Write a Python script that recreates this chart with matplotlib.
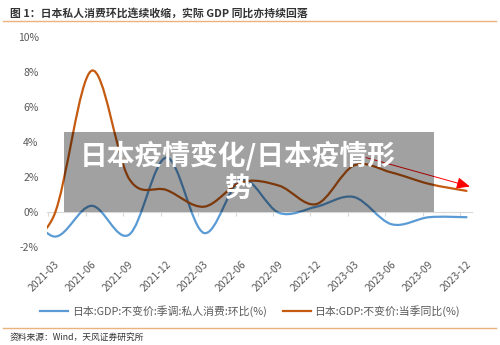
import numpy as np
import matplotlib
matplotlib.use("Agg")
import matplotlib.pyplot as plt
from matplotlib.path import Path
from matplotlib.patches import PathPatch, Rectangle
from matplotlib.lines import Line2D
from matplotlib.transforms import ScaledTranslation

plt.rcParams['font.family'] = ['Noto Sans CJK SC', 'DejaVu Sans']

# ---- data (quarterly, %) ----
# first entry (2020-12) sits left of the axis and is clipped away
quarters = ['2020-12', '2021-03', '2021-06', '2021-09', '2021-12', '2022-03', '2022-06',
            '2022-09', '2022-12', '2023-03', '2023-06', '2023-09', '2023-12']
consumption_qoq = [1.0, -1.4, 0.35, -1.3, 3.1, -1.2, 1.85, -0.05, 0.3, 0.85, -0.7, -0.3, -0.3]
gdp_yoy = [-1.8, -0.2, 8.05, 1.9, 1.25, 0.3, 1.7, 1.5, 0.45, 2.65, 2.25, 1.6, 1.2]
tick_labels = quarters[1:]

series_names = ['日本:GDP:不变价:季调:私人消费:环比(%)', '日本:GDP:不变价:当季同比(%)']
series_colors = ['#5B9BD5', '#C55A11']

title = '图 1：日本私人消费环比连续收缩，实际 GDP 同比亦持续回落'
source = '资料来源：Wind，天风证券研究所'
overlay_text = '日本疫情变化/日本疫情形\n势'

# trend arrow, in data units (start, end)
arrow_start = (8.32, 3.1)
arrow_end = (11.09, 1.45)


def smooth_path(x, y):
    # excel-like smoothed line: bezier through every point
    pts = np.column_stack([x, y]).astype(float)
    verts = [pts[0]]
    codes = [Path.MOVETO]
    n = len(pts)
    for i in range(n - 1):
        p0 = pts[i - 1] if i > 0 else pts[i]
        p1 = pts[i]
        p2 = pts[i + 1]
        p3 = pts[i + 2] if i + 2 < n else pts[i + 1]
        verts += [p1 + (p2 - p0) / 6, p2 - (p3 - p1) / 6, p2]
        codes += [Path.CURVE4] * 3
    return Path(verts, codes)


fig = plt.figure(figsize=(5, 3.45), dpi=100)
ax = fig.add_axes([0.094, 0.284, 0.85, 0.61])

x = np.arange(len(quarters)) - 1
for vals, col in zip([consumption_qoq, gdp_yoy], series_colors):
    ax.add_patch(PathPatch(smooth_path(x, vals), fill=False, edgecolor=col, lw=1.6,
                           capstyle='round', zorder=3))

ax.set_xlim(-0.187, 11.147)
ax.set_ylim(-2, 10)
ax.set_yticks(range(-2, 11, 2))
ax.set_yticklabels([f'{v}%' for v in range(-2, 11, 2)])

ax.set_xticks(np.arange(len(tick_labels)) - 0.16)
ax.set_xticklabels(tick_labels)

for s in ['top', 'right', 'left']:
    ax.spines[s].set_visible(False)
ax.spines['bottom'].set_position(('data', 0))
ax.spines['bottom'].set_color('#D9D9D9')
ax.tick_params(axis='x', direction='out', length=3, color='#D9D9D9', pad=31,
               labelsize=7.5, labelcolor='#595959', labelrotation=45)
ax.tick_params(axis='y', length=0, labelsize=7.5, labelcolor='#595959', pad=6)

offset = ScaledTranslation(4 / 72, 0, fig.dpi_scale_trans)
for lbl in ax.get_xticklabels():
    lbl.set_ha('right')
    lbl.set_va('top')
    lbl.set_rotation_mode('anchor')
    lbl.set_transform(lbl.get_transform() + offset)

ax.annotate('', xy=arrow_end, xytext=arrow_start,
            arrowprops=dict(arrowstyle='-|>,head_length=0.8,head_width=0.35',
                            color='#FF0000', lw=0.7, shrinkA=0, shrinkB=0), zorder=4)

handles = [Line2D([], [], color=c, lw=1.6) for c in series_colors]
fig.legend(handles, series_names, loc='center', bbox_to_anchor=(0.5, 0.099), ncol=2,
           frameon=False, fontsize=7.8, labelcolor='#595959', handlelength=2.6,
           handletextpad=0.3, columnspacing=1.5)

# header / footer
fig.text(0.02, 0.962, title, fontsize=7.8, fontweight='bold', color='#333333', va='center')
fig.add_artist(Line2D([0.006, 0.992], [0.939, 0.939], color='#EDB27C', lw=1,
                      transform=fig.transFigure))
fig.add_artist(Line2D([0.006, 0.992], [0.049, 0.049], color='#EDB27C', lw=1,
                      transform=fig.transFigure))
fig.text(0.02, 0.023, source, fontsize=6.3, color='#333333', va='center')

# grey overlay banner with watermark title
fig.add_artist(Rectangle((0.128, 0.386), 0.74, 0.232, transform=fig.transFigure,
                         facecolor='black', alpha=0.37, edgecolor='none', zorder=5))
fig.text(0.476, 0.502, overlay_text, fontsize=20, fontweight='bold', color='white',
         ha='center', va='center', linespacing=1.2, zorder=6)

fig.savefig('out.png', dpi=100)
